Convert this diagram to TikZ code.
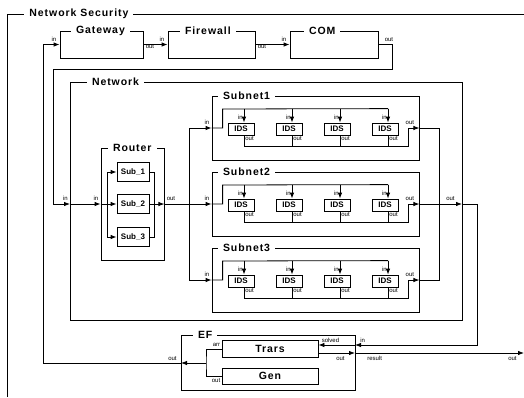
\documentclass[tikz,border=0pt]{standalone}
\usepackage{fontspec}
\setmainfont{Liberation Sans}
\newfontfamily\ttlfont[LetterSpace=9]{Liberation Sans}
\usetikzlibrary{calc, arrows.meta}

\begin{document}
\begin{tikzpicture}[
    >={Latex[length=6pt,width=4.5pt]},
    x=1pt, y=-1pt,
    line width=.8pt,
]

\tikzstyle{blk} = [rectangle, draw=black, line width=.8pt, inner sep=0pt]
\tikzstyle{ttl} = [fill=white, inner ysep=2pt, inner xsep=5pt, anchor=west, font=\ttlfont\bfseries\fontsize{10.5}{11}\selectfont]
\tikzstyle{port} = [inner sep=0pt, font=\fontsize{6}{6}\selectfont]
\tikzstyle{atom} = [blk, font=\bfseries\fontsize{8}{8}\selectfont]

\useasboundingbox (0,0) rectangle (524,397);

% outer frame
\draw (7,397) -- (7,14) -- (524,14);
\node (netsec) [ttl] at (24,14) {Network Security};

% top row
\node (gateway) [blk, minimum width=83pt, minimum height=27pt] at (101.5,44.5) {};
\node (gateway-t) [ttl] at ($(gateway.north west)+(11,0)$) {Gateway};
\node (firewall) [blk, minimum width=87pt, minimum height=27pt] at (211.5,44.5) {};
\node (firewall-t) [ttl] at ($(firewall.north west)+(12,0)$) {Firewall};
\node (com) [blk, minimum width=88pt, minimum height=27pt] at (334,44.5) {};
\node (com-t) [ttl] at ($(com.north west)+(14,0)$) {COM};

\node [port, anchor=south east] at ($(gateway.west)+(-3,-3)$) {in};
\node [port, anchor=north west] at ($(gateway.east)+(2,0)$) {out};
\node [port, anchor=south east] at ($(firewall.west)+(-3,-3)$) {in};
\node [port, anchor=north west] at ($(firewall.east)+(2,0)$) {out};
\node [port, anchor=south east] at ($(com.west)+(-3,-3)$) {in};
\node [port, anchor=south west] at ($(com.east)+(6,-3)$) {out};

\draw[->] (gateway.east) -- (firewall.west);
\draw[->] (firewall.east) -- (com.west);

% network
\node (network) [blk, minimum width=392pt, minimum height=238pt] at (266,201) {};
\node (network-t) [ttl] at ($(network.north west)+(17,0)$) {Network};
\coordinate (nin) at (70,204);
\coordinate (nout) at (462,204);
\node [port, anchor=south east] at ($(nin)+(-2,-3)$) {in};
\node [port, anchor=south east] at ($(nout)+(-7,-3)$) {out};

\draw[->] (com.east) -- ++(14,0) |- (53,69) |- (nin);

% router
\node (router) [blk, minimum width=63pt, minimum height=112pt] at (132.5,204) {};
\node (router-t) [ttl] at ($(router.north west)+(7,0)$) {Router};
\node (sub1) [atom, minimum width=32pt, minimum height=19pt] at (133,172) {Sub\_1};
\node (sub2) [atom, minimum width=32pt, minimum height=19pt] at (133,204) {Sub\_2};
\node (sub3) [atom, minimum width=32pt, minimum height=19pt] at (133,237) {Sub\_3};
\node [port, anchor=south east] at ($(router.west)+(-2,-3)$) {in};
\node [port, anchor=south west] at ($(router.east)+(2,-3)$) {out};
\coordinate (rsplit) at (107,204);
\coordinate (rjoin) at (154,204);
\coordinate (rbus) at (189,204);

\draw[->] (nin) -- (router.west);
\draw (router.west) -- (rsplit);
\draw[->] (rsplit) |- (sub1.west);
\draw[->] (rsplit) -- (sub2.west);
\draw[->] (rsplit) |- (sub3.west);
\draw (sub1.east) -| (rjoin);
\draw (sub3.east) -| (rjoin);
\draw[->] (sub2.east) -- (router.east);
\draw (router.east) -- (rbus);

% subnets
\foreach \i/\cy in {1/128, 2/204, 3/280} {
  \node (subnet\i) [blk, minimum width=207pt, minimum height=64pt] at (315.5,\cy) {};
  \node (subnet\i-t) [ttl] at ($(subnet\i.north west)+(6,0)$) {Subnet\i};
  \node [port, anchor=south east] at ($(subnet\i.west)+(-2,-3)$) {in};
  \node [port, anchor=south east] at ($(subnet\i.east)+(-5,-3)$) {out};
  \foreach \j/\cx in {1/241, 2/289, 3/337, 4/385} {
    \node (ids\i\j) [atom, minimum width=26pt, minimum height=12pt] at (\cx,\cy+1) {IDS};
    \node [port, anchor=south east] at ($(ids\i\j.north)+(2,-3)$) {in};
    \node [port, anchor=north west] at ($(ids\i\j.south)+(4,1)$) {out};
    \draw[->] ($(ids\i\j.north)+(3,-14)$) -- ($(ids\i\j.north)+(3,0)$);
    \draw ($(ids\i\j.south)+(3,0)$) -- ($(ids\i\j.south)+(3,11)$);
  }
  \draw[->] (rbus) |- (subnet\i.west);
  \draw (subnet\i.west) -| ($(subnet\i.west)+(11,-19)$) -- ($(ids\i4.north)+(3,-14)$);
  \draw[->] ($(ids\i1.south)+(3,11)$) -| ($(subnet\i.east)+(-11,0)$) -- (subnet\i.east);
}

\coordinate (sbus) at (439,204);
\draw (subnet1.east) -| (sbus);
\draw (subnet3.east) -| (sbus);
\draw[->] (subnet2.east) -- (nout);

% EF
\node (ef) [blk, minimum width=174pt, minimum height=55pt] at (268,362.5) {};
\node (ef-t) [ttl] at ($(ef.north west)+(12,0)$) {EF};
\node (trars) [blk, minimum width=96pt, minimum height=17pt, font=\ttlfont\bfseries\fontsize{10.5}{11}\selectfont] at (270,349) {Trars};
\node (gen) [blk, minimum width=96pt, minimum height=16pt, font=\ttlfont\bfseries\fontsize{10.5}{11}\selectfont] at (270,376) {Gen};
\coordinate (efin) at (355,345);
\coordinate (efres) at (355,353);
\coordinate (efout) at (181,363);
\coordinate (gsplit) at (206,363);
\coordinate (nsout) at (524,353);

\node [port, anchor=south west] at ($(trars.east |- efin)+(3,-2)$) {solved};
\node [port, anchor=south west] at ($(efin)+(5,-2)$) {in};
\node [port, anchor=north east] at ($(efres)+(-10,3)$) {out};
\node [port, anchor=north west] at ($(efres)+(12,3)$) {result};
\node [port, anchor=north east] at ($(nsout)+(-7,3)$) {out};
\node [port, anchor=south east] at ($(trars.west)+(-1,-2)$) {arr};
\node [port, anchor=north east] at ($(gen.west)+(-1,2)$) {out};
\node [port, anchor=south east] at ($(efout)+(-4,-2)$) {out};

\draw[->] (nout) -- ++(15,0) |- (efin);
\draw[->] (efin) -- (trars.east |- efin);
\draw[->] (trars.east |- efres) -- (efres);
\draw[->] (efres) -- (nsout);
\draw (trars.west) -| (gsplit) |- (gen.west);
\draw[->] (gsplit) -- (efout);
\draw[->] (efout) -- ++(-138,0) |- (gateway.west);

\end{tikzpicture}
\end{document}
